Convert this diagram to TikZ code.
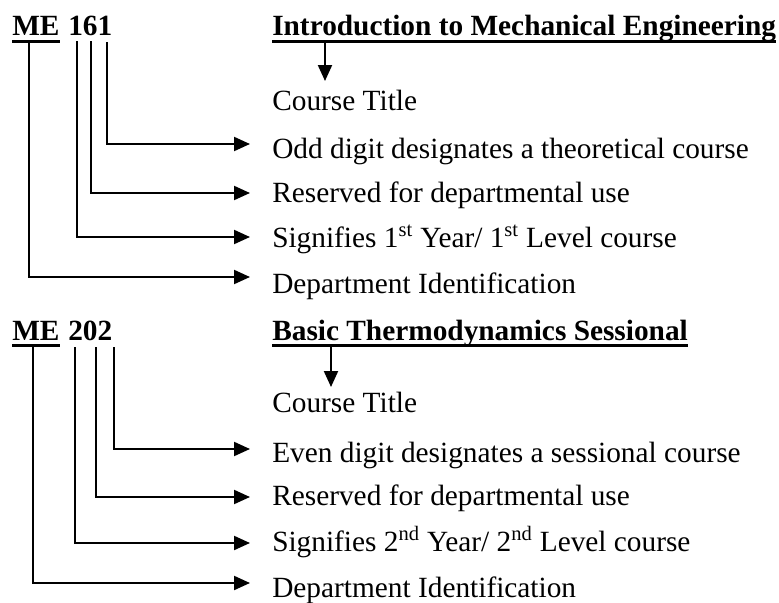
\documentclass[tikz,border=0pt]{standalone}
\usepackage{fontspec}
\setmainfont{Liberation Serif}
\usetikzlibrary{arrows.meta}
\begin{document}
\begin{tikzpicture}[x=0.75pt,y=-0.75pt,
  txt/.style={anchor=base west,inner sep=0pt,font=\fontsize{22pt}{26pt}\selectfont},
  btxt/.style={txt,font=\fontsize{22pt}{26pt}\selectfont\bfseries},
  arr/.style={line width=1.6pt,-{Triangle[length=12pt,width=10.5pt]}},
  uline/.style={line width=2.2pt}]
\useasboundingbox (0,0) rectangle (779,603);
% ---------- top block ----------
\node[btxt] (me1) at (12,36) {ME};
\node[btxt] (num1) at (68,36) {161};
\node[btxt] (tt1) at (272,36) {Introduction to Mechanical Engineering};
\draw[uline] ([yshift=-3.8pt]me1.base west) -- ([yshift=-3.8pt]me1.base east);
\draw[uline] ([yshift=-3.8pt]tt1.base west) -- ([yshift=-3.8pt]tt1.base east);
\node[txt] (ct1) at (272,110) {Course Title};
\node[txt] (l1a) at (272,158) {Odd digit designates a theoretical course};
\node[txt] (l1b) at (272,202) {Reserved for departmental use};
\node[txt] (l1c) at (272,247) {Signifies 1\textsuperscript{st} Year/ 1\textsuperscript{st} Level course};
\node[txt] (l1d) at (272,293) {Department Identification};
\coordinate (d1) at (325,40);
\coordinate (e1) at (325,81);
\draw[arr] (d1) -- (e1);
\coordinate (a1) at (107,42);  \coordinate (ta1) at (250,144);
\coordinate (b1) at (91,41);   \coordinate (tb1) at (250,193);
\coordinate (c1) at (77,41);   \coordinate (tc1) at (250,237);
\coordinate (m1) at (29,41);   \coordinate (tm1) at (250,277);
\draw[arr] (a1) |- (ta1);
\draw[arr] (b1) |- (tb1);
\draw[arr] (c1) |- (tc1);
\draw[arr] (m1) |- (tm1);
% ---------- bottom block ----------
\node[btxt] (me2) at (12,340) {ME};
\node[btxt] (num2) at (68,340) {202};
\node[btxt] (tt2) at (272,340) {Basic Thermodynamics Sessional};
\draw[uline] ([yshift=-3.8pt]me2.base west) -- ([yshift=-3.8pt]me2.base east);
\draw[uline] ([yshift=-3.8pt]tt2.base west) -- ([yshift=-3.8pt]tt2.base east);
\node[txt] (ct2) at (272,412) {Course Title};
\node[txt] (l2a) at (272,462) {Even digit designates a sessional course};
\node[txt] (l2b) at (272,505) {Reserved for departmental use};
\node[txt] (l2c) at (272,551) {Signifies 2\textsuperscript{nd} Year/ 2\textsuperscript{nd} Level course};
\node[txt] (l2d) at (272,597) {Department Identification};
\coordinate (d2) at (331,345);
\coordinate (e2) at (331,387);
\draw[arr] (d2) -- (e2);
\coordinate (a2) at (114,347); \coordinate (ta2) at (250,449);
\coordinate (b2) at (96,347);  \coordinate (tb2) at (250,497);
\coordinate (c2) at (75,347);  \coordinate (tc2) at (250,543);
\coordinate (m2) at (33,345);  \coordinate (tm2) at (250,583);
\draw[arr] (a2) |- (ta2);
\draw[arr] (b2) |- (tb2);
\draw[arr] (c2) |- (tc2);
\draw[arr] (m2) |- (tm2);
\end{tikzpicture}
\end{document}
